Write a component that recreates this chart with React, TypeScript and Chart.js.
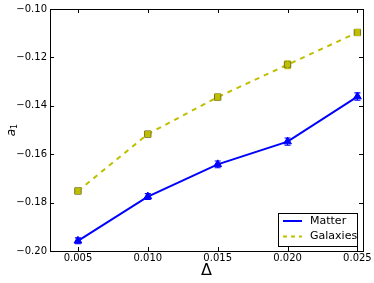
import React, { useEffect, useRef } from 'react';
import { Chart, registerables } from 'chart.js';
Chart.register(...registerables);

const deltas = [0.005, 0.01, 0.015, 0.02, 0.025];
const matter = [-0.1958, -0.1775, -0.1642, -0.1548, -0.1362];
const matterErr = [0.0012, 0.0012, 0.0014, 0.0015, 0.0015];
const galaxies = [-0.1752, -0.1517, -0.1364, -0.123, -0.1097];
const galaxiesErr = [0.001, 0.0009, 0.0011, 0.0016, 0.0012];
const xTicks = [0.005, 0.01, 0.015, 0.02, 0.025];
const yTicks = [-0.2, -0.18, -0.16, -0.14, -0.12, -0.1];
const seriesNames = ['Matter', 'Galaxies'];

const BLUE = '#0000ff';
const YEL = '#bfbf00';
const FONT = '"DejaVu Sans", sans-serif';

const errs = [matterErr, galaxiesErr];
const cols = [BLUE, YEL];

const custom = {
  id: 'custom',
  afterDatasetsDraw(chart: any) {
    const ctx = chart.ctx;
    const xs = chart.scales.x;
    const ys = chart.scales.y;
    const ca = chart.chartArea;
    // error bars
    chart.data.datasets.forEach((ds: any, i: number) => {
      ctx.save();
      ctx.strokeStyle = cols[i];
      ctx.lineWidth = 1.2;
      ds.data.forEach((p: any, j: number) => {
        const x = xs.getPixelForValue(p.x);
        const y1 = ys.getPixelForValue(p.y - errs[i][j]);
        const y2 = ys.getPixelForValue(p.y + errs[i][j]);
        ctx.beginPath();
        ctx.moveTo(x, y1);
        ctx.lineTo(x, y2);
        ctx.moveTo(x - 3, y1);
        ctx.lineTo(x + 3, y1);
        ctx.moveTo(x - 3, y2);
        ctx.lineTo(x + 3, y2);
        ctx.stroke();
      });
      ctx.restore();
    });
    // frame
    ctx.save();
    ctx.strokeStyle = '#000';
    ctx.lineWidth = 1;
    ctx.strokeRect(Math.round(ca.left) + 0.5, Math.round(ca.top) + 0.5, Math.round(ca.right - ca.left), Math.round(ca.bottom - ca.top));
    // ticks inside on all sides
    ctx.beginPath();
    xTicks.forEach((t) => {
      const x = Math.round(xs.getPixelForValue(t)) + 0.5;
      ctx.moveTo(x, ca.bottom);
      ctx.lineTo(x, ca.bottom - 4);
      ctx.moveTo(x, ca.top);
      ctx.lineTo(x, ca.top + 4);
    });
    yTicks.forEach((t) => {
      const y = Math.round(ys.getPixelForValue(t)) + 0.5;
      ctx.moveTo(ca.left, y);
      ctx.lineTo(ca.left + 4, y);
      ctx.moveTo(ca.right, y);
      ctx.lineTo(ca.right - 4, y);
    });
    ctx.stroke();
    // axis labels
    ctx.fillStyle = '#000';
    ctx.font = `16px ${FONT}`;
    ctx.textAlign = 'center';
    ctx.textBaseline = 'middle';
    ctx.fillText('Δ', (ca.left + ca.right) / 2, 271);
    ctx.save();
    ctx.translate(12, (ca.top + ca.bottom) / 2);
    ctx.rotate(-Math.PI / 2);
    ctx.font = `italic 12px ${FONT}`;
    ctx.textAlign = 'right';
    ctx.fillText('a', 1, 0);
    ctx.font = `8px ${FONT}`;
    ctx.textAlign = 'left';
    ctx.fillText('1', 1, 3);
    ctx.restore();
    // legend
    const lx = 278.5, ly = 213.5, lw = 79, lh = 33;
    ctx.fillStyle = '#fff';
    ctx.fillRect(lx, ly, lw, lh);
    ctx.strokeStyle = '#000';
    ctx.lineWidth = 1;
    ctx.strokeRect(lx, ly, lw, lh);
    ctx.lineWidth = 2;
    ctx.strokeStyle = BLUE;
    ctx.beginPath();
    ctx.moveTo(283, 221);
    ctx.lineTo(302, 221);
    ctx.stroke();
    ctx.strokeStyle = YEL;
    ctx.setLineDash([4, 4]);
    ctx.beginPath();
    ctx.moveTo(283, 236.5);
    ctx.lineTo(302, 236.5);
    ctx.stroke();
    ctx.setLineDash([]);
    ctx.fillStyle = '#000';
    ctx.font = `11px ${FONT}`;
    ctx.textAlign = 'left';
    ctx.textBaseline = 'middle';
    ctx.fillText(seriesNames[0], 310, 221);
    ctx.fillText(seriesNames[1], 310, 236.5);
    ctx.restore();
  },
};

export default function App() {
  const ref = useRef<HTMLCanvasElement>(null);
  useEffect(() => {
    const chart = new Chart(ref.current!, {
      type: 'scatter',
      data: {
        datasets: [
          {
            label: seriesNames[0],
            data: deltas.map((x, i) => ({ x, y: matter[i] })),
            showLine: true,
            borderColor: BLUE,
            borderWidth: 2,
            backgroundColor: BLUE,
            pointStyle: 'triangle',
            pointRadius: 4.5,
            pointBorderColor: BLUE,
            pointBorderWidth: 1,
          },
          {
            label: seriesNames[1],
            data: deltas.map((x, i) => ({ x, y: galaxies[i] })),
            showLine: true,
            borderColor: YEL,
            borderWidth: 2,
            borderDash: [5, 5],
            backgroundColor: YEL,
            pointStyle: 'rect',
            pointRadius: 4.5,
            pointBorderColor: '#707020',
            pointBorderWidth: 1,
          },
        ],
      },
      options: {
        animation: false,
        responsive: false,
        maintainAspectRatio: false,
        layout: { padding: { top: 9, right: 11, left: 0, bottom: 0 } },
        plugins: { legend: { display: false }, tooltip: { enabled: false } },
        scales: {
          x: {
            type: 'linear',
            min: 0.003,
            max: 0.0254,
            grid: { display: false, drawTicks: false },
            border: { display: false },
            afterBuildTicks: (s: any) => {
              s.ticks = xTicks.map((v) => ({ value: v }));
            },
            afterFit: (s: any) => {
              s.height = 32;
            },
            ticks: {
              color: '#000',
              font: { family: FONT, size: 10 },
              maxRotation: 0,
              padding: 1,
              callback: (v: any) => Number(v).toFixed(3),
            },
          },
          y: {
            type: 'linear',
            min: -0.2,
            max: -0.1,
            grid: { display: false, drawTicks: false },
            border: { display: false },
            afterBuildTicks: (s: any) => {
              s.ticks = yTicks.map((v) => ({ value: v }));
            },
            afterFit: (s: any) => {
              s.width = 50;
            },
            ticks: {
              color: '#000',
              font: { family: FONT, size: 10 },
              padding: 3,
              callback: (v: any) => {
                const n = Number(v);
                return (n < 0 ? '\u2212' : '') + Math.abs(n).toFixed(2);
              },
            },
          },
        },
      },
      plugins: [custom],
    });
    return () => chart.destroy();
  }, []);
  return (
    <div style={{ position: 'fixed', left: 0, top: 0, width: 374, height: 283, background: '#fff' }}>
      <canvas ref={ref} width={374} height={283} style={{ width: 374, height: 283 }} />
    </div>
  );
}
